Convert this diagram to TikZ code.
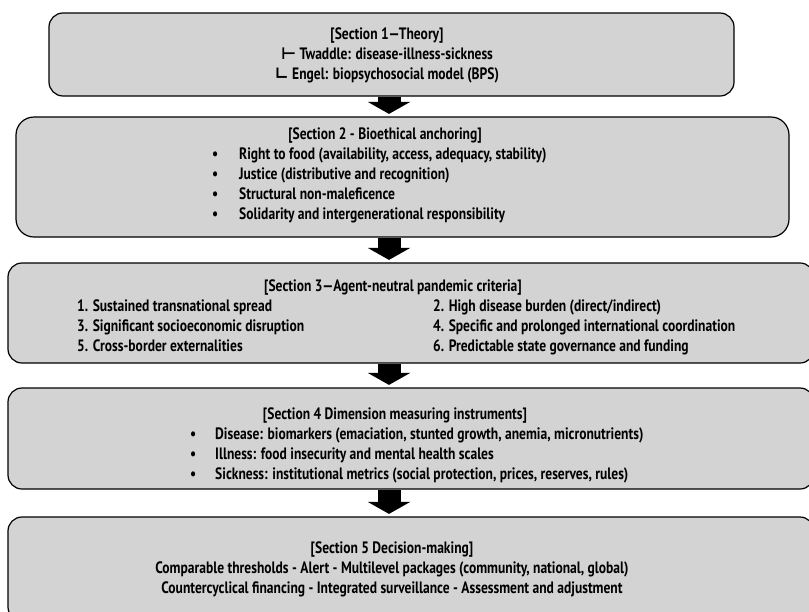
\documentclass[tikz,border=0pt]{standalone}
\usepackage{fontspec}
\setmainfont{PT Sans}[FakeStretch=0.82]
\newfontfamily\symfont{DejaVu Sans}
\usetikzlibrary{arrows.meta}
\definecolor{boxgray}{RGB}{211,211,211}
\newcommand{\bul}{\makebox[27pt][l]{•}}
\newcommand{\bulb}{\makebox[25pt][l]{•}}
\begin{document}
\begin{tikzpicture}[x=1pt,y=-1pt]
          \tikzstyle{section}=[draw=black,line width=1.2pt,fill=boxgray,rounded corners=14pt,inner sep=0pt]
          \tikzstyle{label}=[font=\fontsize{16.5}{20}\selectfont\bfseries,inner sep=0pt,anchor=base,align=center]
          \tikzstyle{items}=[label,anchor=base west,align=left]
          \tikzstyle{edge}=[draw,line width=23pt,-{Triangle[width=42pt,length=12pt]},shorten <=0.6pt,shorten >=2.5pt]
          \clip (0,0) rectangle (809,611);
          \fill[white] (0,0) rectangle (809,611);
          \begin{scope}
              \node [section,minimum width=685pt,minimum height=83pt] (sec1) at (391.5,54.5) {};
              \node [section,minimum width=773pt,minimum height=120pt,rounded corners=18pt] (sec2) at (402.5,177) {};
              \node [section,minimum width=806pt,minimum height=100pt] (sec3) at (411,313) {};
              \node [section,minimum width=806pt,minimum height=101pt] (sec4) at (411,438.5) {};
              \node [section,minimum width=806pt,minimum height=104pt] (sec5) at (411,569) {};
          \end{scope}
          \coordinate (axis) at (389,0);
          \path[edge] (sec1.south -| axis) -- (sec2.north -| axis);
          \path[edge] (sec2.south -| axis) -- (sec3.north -| axis);
          \path[edge] (sec3.south -| axis) -- (sec4.north -| axis);
          \path[edge] (sec4.south -| axis) -- (sec5.north -| axis);
          % texts (multi-line nodes sit on their last baseline)
          \node [label] (t1) at (387,79) {[Section 1—Theory]\\{\symfont ⊢} Twaddle: disease-illness-sickness\\{\symfont ∟} Engel: biopsychosocial model (BPS)};
          \node [label] (t2) at (385,139) {[Section 2 - Bioethical anchoring]};
          \node [items] (l2) at (212,219) {\bul Right to food (availability, access, adequacy, stability)\\\bul Justice (distributive and recognition)\\\bul Structural non-maleficence\\\bul Solidarity and intergenerational responsibility};
          \node [label] (t3) at (393,291) {[Section 3—Agent-neutral pandemic criteria]};
          \node [items] (l3a) at (77,351) {1. Sustained transnational spread\\3. Significant socioeconomic disruption\\5. Cross-border externalities};
          \node [items] (l3b) at (433,351) {2. High disease burden (direct/indirect)\\4. Specific and prolonged international coordination\\6. Predictable state governance and funding};
          \node [label] (t4) at (395,419) {[Section 4 Dimension measuring instruments]};
          \node [items] (l4) at (190,479) {\bulb Disease: biomarkers (emaciation, stunted growth, anemia, micronutrients)\\\bulb Illness: food insecurity and mental health scales\\\bulb Sickness: institutional metrics (social protection, prices, reserves, rules)};
          \node [label] (t5) at (392,593) {[Section 5 Decision-making]\\Comparable thresholds - Alert - Multilevel packages (community, national, global)\\Countercyclical financing - Integrated surveillance - Assessment and adjustment};
        \end{tikzpicture}
\end{document}
